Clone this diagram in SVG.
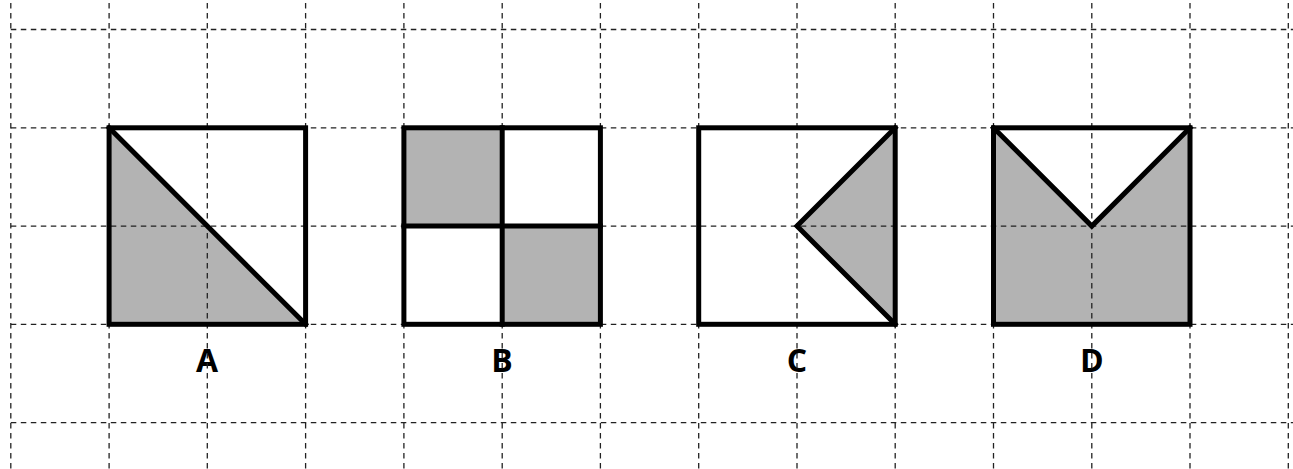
<svg xmlns="http://www.w3.org/2000/svg" width="1293" height="469" viewBox="0 0 1293 469">
<style>
.grid line{stroke:#222;stroke-width:1.3;stroke-dasharray:5.5 4.5}
.fill{fill:#b3b3b3;stroke:none}
.out{fill:none;stroke:#000;stroke-width:5;stroke-linejoin:miter;stroke-linecap:square}
.lbl{font-family:"Open Sans","DejaVu Sans",sans-serif;font-weight:bold;font-size:32px;text-anchor:middle;fill:#000}
</style>
<rect width="1293" height="469" fill="#fff"/>
<g id="fills">
<polygon class="fill" points="109,128 109,324 305.5,324"/>
<rect class="fill" x="404" y="128" width="98" height="98"/>
<rect class="fill" x="502" y="226" width="98.5" height="98"/>
<polygon class="fill" points="895,128 797,226 895,324"/>
<polygon class="fill" points="993.5,128 1091.8,226 1190,128 1190,324 993.5,324"/>
</g>
<g id="labels">
<text class="lbl" x="207" y="372">A</text>
<text class="lbl" x="502" y="372">B</text>
<text class="lbl" x="797" y="372">C</text>
<text class="lbl" x="1091.8" y="372">D</text>
</g>
<g class="grid" id="grid">
<line x1="10.8" y1="3" x2="10.8" y2="469"/>
<line x1="109.1" y1="3" x2="109.1" y2="469"/>
<line x1="207.3" y1="3" x2="207.3" y2="469"/>
<line x1="305.6" y1="3" x2="305.6" y2="469"/>
<line x1="403.9" y1="3" x2="403.9" y2="469"/>
<line x1="502.2" y1="3" x2="502.2" y2="469"/>
<line x1="600.4" y1="3" x2="600.4" y2="469"/>
<line x1="698.7" y1="3" x2="698.7" y2="469"/>
<line x1="797" y1="3" x2="797" y2="469"/>
<line x1="895.2" y1="3" x2="895.2" y2="469"/>
<line x1="993.5" y1="3" x2="993.5" y2="469"/>
<line x1="1091.8" y1="3" x2="1091.8" y2="469"/>
<line x1="1190" y1="3" x2="1190" y2="469"/>
<line x1="1288.3" y1="3" x2="1288.3" y2="469"/>
<line x1="10.8" y1="29.5" x2="1293" y2="29.5"/>
<line x1="10.8" y1="127.8" x2="1293" y2="127.8"/>
<line x1="10.8" y1="226.1" x2="1293" y2="226.1"/>
<line x1="10.8" y1="324.3" x2="1293" y2="324.3"/>
<line x1="10.8" y1="422.6" x2="1293" y2="422.6"/>
</g>
<g id="shapeA">
<rect class="out" x="109.1" y="127.8" width="196.5" height="196.5"/>
<line class="out" x1="109.1" y1="127.8" x2="305.6" y2="324.3" stroke-linecap="butt"/>
</g>
<g id="shapeB">
<rect class="out" x="403.9" y="127.8" width="196.5" height="196.5"/>
<line class="out" x1="502.2" y1="127.8" x2="502.2" y2="324.3"/>
<line class="out" x1="403.9" y1="226.1" x2="600.4" y2="226.1"/>
</g>
<g id="shapeC">
<rect class="out" x="698.7" y="127.8" width="196.5" height="196.5"/>
<polyline class="out" points="895.2,127.8 797,226.1 895.2,324.3"/>
</g>
<g id="shapeD">
<rect class="out" x="993.5" y="127.8" width="196.5" height="196.5"/>
<polyline class="out" points="993.5,127.8 1091.8,226.1 1190,127.8"/>
</g>
</svg>
